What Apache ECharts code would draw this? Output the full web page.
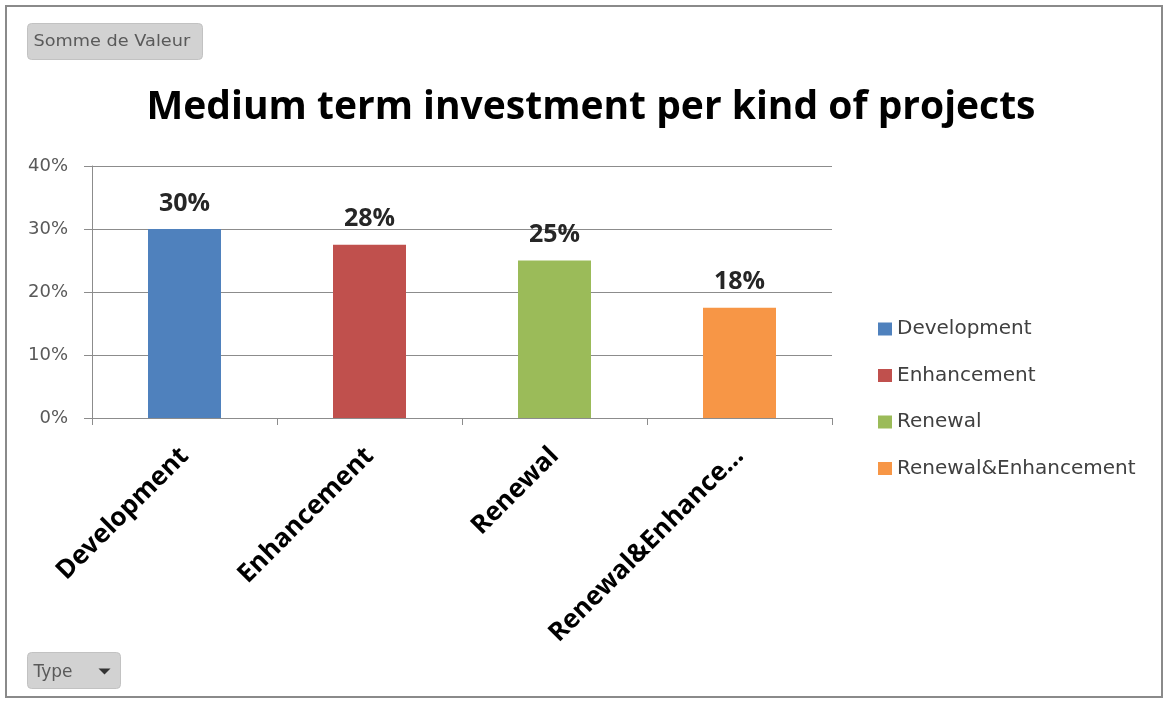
<!DOCTYPE html>
<html>
<head>
<meta charset="utf-8">
<script src="https://cdn.jsdelivr.net/npm/echarts@6/dist/echarts.min.js"></script>
<style>
  html, body { margin: 0; padding: 0; background: #fff; }
  #chart { width: 1166px; height: 702px; }
</style>
</head>
<body>
<div id="chart"></div>
<script>
// data
const categories = ['Development', 'Enhancement', 'Renewal', 'Renewal&Enhancement']
const values = [0.30, 0.275, 0.25, 0.175]
const colors = ['#4f81bd', '#c0504d', '#9bbb59', '#f79646']
const yTicks = [0, 0.1, 0.2, 0.3, 0.4]

const font = '"Open Sans", sans-serif'
const wide = '"DejaVu Sans", sans-serif'
const chart = echarts.init(document.getElementById('chart'))

// one series per kind so the legend lists each one; stacking keeps bars centred
const series = categories.map((name, i) => ({
  name,
  type: 'bar',
  stack: 'all',
  barWidth: 73,
  itemStyle: { color: colors[i] },
  data: categories.map((c, j) => (j === i ? values[i] : null)),
  label: {
    show: true,
    position: 'top',
    distance: 13,
    formatter: p => Math.round(p.value * 100) + '%',
    fontFamily: font,
    fontWeight: 'bold',
    fontSize: 25,
    color: '#262626'
  }
}))

chart.setOption({
  animation: false,
  title: {
    text: 'Medium term investment per kind of projects',
    left: 586,
    textAlign: 'center',
    top: 83,
    textStyle: { fontFamily: font, fontWeight: 'bold', fontSize: 39, color: '#000' }
  },
  legend: {
    orient: 'vertical',
    left: 873,
    top: 314,
    itemWidth: 14,
    itemHeight: 13,
    itemGap: 26.5,
    icon: 'rect',
    textStyle: { fontFamily: wide, fontSize: 20, color: '#404040' },
    data: categories
  },
  grid: { left: 92, right: 334, top: 166, bottom: 284 },
  xAxis: {
    type: 'category',
    data: categories,
    axisLine: { lineStyle: { color: '#8c8c8c', width: 1 } },
    axisTick: { show: true, length: 7, lineStyle: { color: '#8c8c8c' } },
    axisLabel: {
      rotate: 45,
      margin: 34,
      fontFamily: font,
      fontWeight: 'bold',
      fontSize: 26,
      color: '#000',
      formatter: v => (v.length > 15 ? v.slice(0, 15) + '...' : v)
    }
  },
  yAxis: {
    type: 'value',
    min: yTicks[0],
    max: yTicks[yTicks.length - 1],
    interval: 0.1,
    axisLine: { show: true, lineStyle: { color: '#8c8c8c' } },
    axisTick: { show: true, length: 8, lineStyle: { color: '#8c8c8c' } },
    splitLine: { lineStyle: { color: '#8c8c8c' } },
    axisLabel: {
      margin: 24,
      fontFamily: wide,
      fontSize: 18,
      color: '#595959',
      formatter: v => Math.round(v * 100) + '%'
    }
  },
  series,
  graphic: [
    {
      type: 'rect',
      shape: { x: 6, y: 6, width: 1156, height: 691 },
      style: { fill: 'none', stroke: '#8a8a8a', lineWidth: 2 },
      silent: true
    },
    {
      type: 'group',
      left: 27, top: 23,
      children: [
        {
          type: 'rect',
          shape: { width: 175, height: 36, r: 4 },
          style: { fill: '#d2d2d2', stroke: '#c2c2c2', lineWidth: 1 }
        },
        {
          type: 'text',
          x: 6, y: 11,
          scaleX: 1.18,
          style: { text: 'Somme de Valeur', fontFamily: wide, fontSize: 15, fill: '#5a5a5a' }
        }
      ]
    },
    {
      type: 'group',
      left: 27, top: 652,
      children: [
        {
          type: 'rect',
          shape: { width: 93, height: 36, r: 4 },
          style: { fill: '#d2d2d2', stroke: '#c2c2c2', lineWidth: 1 }
        },
        {
          type: 'text',
          x: 6, y: 12,
          style: { text: 'Type', fontFamily: wide, fontSize: 17, fill: '#5a5a5a' }
        },
        {
          type: 'polygon',
          shape: { points: [[71, 16], [83, 16], [77, 22]] },
          style: { fill: '#333' }
        }
      ]
    }
  ]
})
</script>
</body>
</html>
